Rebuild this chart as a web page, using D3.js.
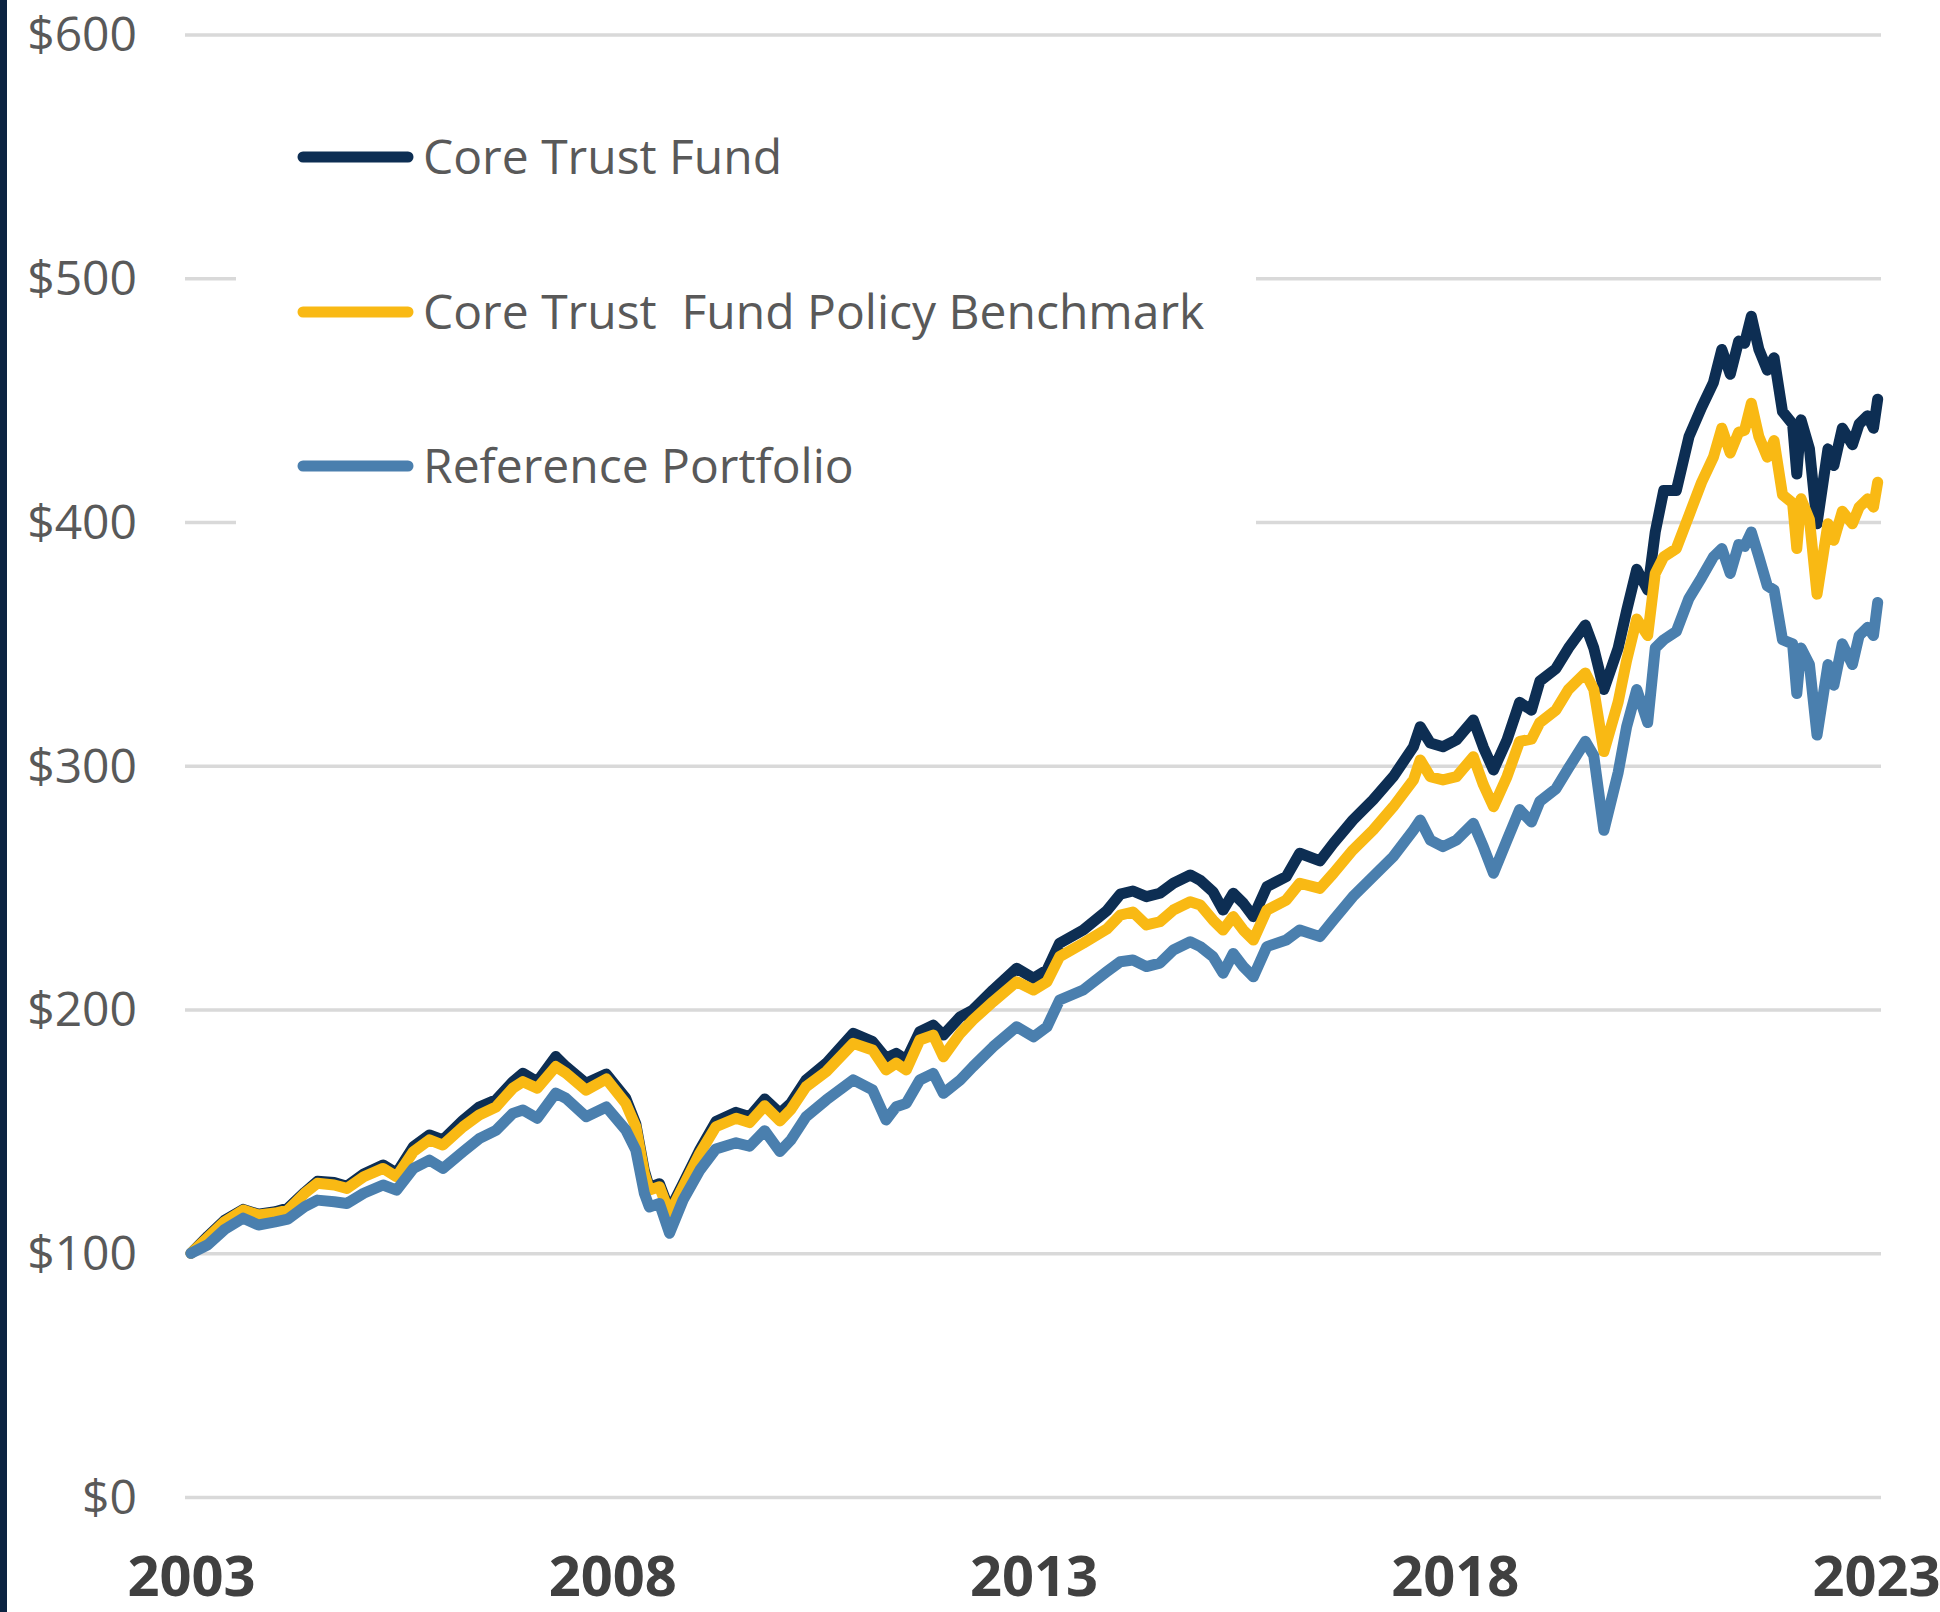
<!DOCTYPE html>
<html>
<head>
<meta charset="utf-8">
<script src="https://cdn.jsdelivr.net/npm/d3@7"></script>
<style>
  html, body { margin: 0; padding: 0; background: #ffffff; }
  svg { display: block; }
</style>
</head>
<body>
<svg id="chart" width="1940" height="1612"></svg>
<script>
// ---- Data (x = position on the fiscal-year axis) ----
const years = [
  2003.00, 2003.20, 2003.40, 2003.62, 2003.80,
  2004.00, 2004.15, 2004.35, 2004.50, 2004.70, 2004.85,
  2005.05, 2005.28, 2005.44, 2005.64, 2005.83, 2005.99,
  2006.23, 2006.42, 2006.62, 2006.82, 2006.94,
  2007.11, 2007.33, 2007.45, 2007.69, 2007.93,
  2008.16, 2008.28, 2008.38, 2008.44, 2008.56, 2008.68, 2008.84,
  2009.04, 2009.23, 2009.47, 2009.63, 2009.81, 2009.99,
  2010.12, 2010.30, 2010.54, 2010.86,
  2011.09, 2011.25, 2011.37, 2011.49, 2011.65, 2011.81, 2011.93,
  2012.13, 2012.28, 2012.52, 2012.80,
  2013.00, 2013.16, 2013.31, 2013.59, 2013.87,
  2014.03, 2014.18, 2014.34, 2014.50, 2014.66, 2014.86, 2014.98,
  2015.13, 2015.25, 2015.37, 2015.49, 2015.61, 2015.77,
  2016.00, 2016.16, 2016.40, 2016.56, 2016.79,
  2017.03, 2017.27, 2017.51, 2017.59, 2017.71, 2017.86,
  2018.02, 2018.22, 2018.34, 2018.46, 2018.62, 2018.77, 2018.91,
  2019.01, 2019.20, 2019.35, 2019.55, 2019.65, 2019.77, 2019.94,
  2020.04, 2020.16, 2020.29, 2020.38, 2020.48, 2020.63, 2020.78, 2020.93,
  2021.07, 2021.17, 2021.27, 2021.37, 2021.44, 2021.52, 2021.61, 2021.71, 2021.79, 2021.89,
  2022.01, 2022.06, 2022.11, 2022.21, 2022.30, 2022.43, 2022.50, 2022.60, 2022.72, 2022.80, 2022.90, 2022.97,
  2023.02
];

const coreTrustFund = [
  100, 107, 113.5, 118, 116,
  117, 118.5, 125, 129.5, 129, 127.5,
  132.5, 136.2, 132.8, 143.7, 148.5, 146.5,
  154.6, 160, 162.9, 170.4, 173.8,
  170.4, 180.7, 176.6, 169.7, 173.5,
  163.6, 153, 134, 127, 128.5, 117.5, 128.5,
  142.5, 154, 157.8, 156, 163.3, 157.4,
  161.5, 171.1, 177.9, 190.2,
  186.8, 180, 182, 179.3, 190.9, 193.6, 189.5,
  197, 199.8, 208, 216.9,
  212.8, 216.2, 227.2, 232.6, 240.5,
  247.3, 248.6, 246.3, 247.7, 251.8, 255.2, 253,
  248.3, 240.8, 247.7, 243.6, 238.1, 250.4,
  254.5, 264.1, 261, 268.2, 277.7,
  286, 295.5, 307.8, 316, 309.3, 307.8,
  310.6, 318.8, 307.5, 298.3, 310.6, 326, 322.8,
  334.7, 339.8, 348.3, 357.7, 348.3, 331.3, 348.3,
  363.6, 380.6, 372.1, 395.9, 412.9, 412.9, 435, 447,
  457.2, 470.8, 460.6, 474.2, 473.3, 484.4, 470.8, 462.3, 467.4, 445.3,
  440.2, 419.7, 441.9, 430, 399.3, 430, 423.2, 438.5, 431.7, 440.2, 443.6, 438.5,
  450.4
];

const policyBenchmark = [
  100, 106.5, 113, 117.7, 115.7,
  116.5, 117.7, 124.6, 128.7, 128, 126.6,
  131.4, 134.8, 131.4, 141.7, 146.5, 144.4,
  151.9, 156.7, 160, 167.7, 170.4,
  167.7, 176.6, 173.9, 166.9, 171.5,
  161.5, 151.9, 132.8, 125.9, 127.3, 116.3, 127.3,
  141, 151.9, 155.4, 153.6, 160.5, 154.3,
  159, 168.3, 174.5, 186.1,
  183.4, 175.2, 178, 175.2, 187.5, 189.5, 180.6,
  190.2, 195.7, 203.2, 211.4,
  208, 211.4, 221.7, 227.2, 233,
  238.7, 240, 234.7, 236, 240.8, 244.2, 242.9,
  236.7, 232.6, 238.1, 232.6, 228.5, 240.8,
  244.9, 251.8, 249.7, 255.9, 265.4,
  273.6, 283.2, 294.2, 302.4, 295.5, 294.2,
  295.5, 303.7, 292.2, 283.2, 295.5, 310, 310.9,
  317.7, 322.8, 331.3, 338.1, 331.3, 305.8, 326.2,
  343.2, 360.2, 353.4, 378.9, 385.7, 389.1, 402.7, 416.3,
  426.6, 438.5, 428.3, 436.8, 437.6, 448.7, 435, 426.6, 433.4, 411.2,
  407.8, 389.1, 409.5, 401, 370.4, 399.3, 392.5, 404.4, 399.3, 406.1, 409.5, 406.1,
  416.3
];

const referencePortfolio = [
  100, 103.5, 109.8, 114.4, 111.6,
  112.9, 114, 119.1, 121.8, 121.1, 120.4,
  124.6, 128, 125.9, 134.8, 138.2, 134.8,
  141.7, 147, 150.4, 157.4, 158.8,
  155.4, 165.7, 163.6, 156, 160,
  150.6, 142.3, 124.7, 119, 120.4, 108.2, 121.8,
  134.1, 142.8, 145.3, 143.9, 150.3, 141.7,
  146.5, 156, 162.9, 171.1,
  167, 154.7, 160.1, 161.5, 171.1, 173.8, 165.6,
  171.1, 176.5, 184.7, 192.9,
  188.8, 192.9, 203.9, 208, 215.5,
  219.6, 220.3, 217.6, 219, 224.4, 227.8, 225.8,
  221.7, 214.9, 223, 217.6, 213.4, 225.8,
  228.5, 232.6, 229.9, 236.7, 246.3,
  254.5, 262.7, 273.6, 277.7, 269.5, 266.8,
  269.5, 276.4, 266.7, 255.9, 269.5, 282, 276.9,
  285.4, 290.5, 299, 310, 304.1, 273.5, 297.3,
  316, 331.3, 317.7, 348.3, 351.7, 355.1, 368.7, 377.2,
  385.7, 389.1, 378.9, 390.8, 390, 395.9, 385.7, 373.8, 372.1, 351.7,
  350, 329.6, 348.3, 341.5, 312.6, 341.5, 333, 350, 341.5, 353.4, 356.8, 353.4,
  367
];

const seriesNames = ["Core Trust Fund", "Core Trust  Fund Policy Benchmark", "Reference Portfolio"];
const seriesColors = ["#0d2e53", "#f9b914", "#4a7fae"];
const xTicks = [2003, 2008, 2013, 2018, 2023];
const yTicks = [0, 100, 200, 300, 400, 500, 600];

// ---- Layout ----
const W = 1940, H = 1612;
const plot = { left: 185, right: 1881, top: 34.5, bottom: 1497 };
const FONT = "'Open Sans', 'Noto Sans', sans-serif";

const svg = d3.select("#chart");
svg.append("rect").attr("width", W).attr("height", H).attr("fill", "#ffffff");

const x = d3.scaleLinear().domain([2003, 2023]).range([191, 1876]);
const y = d3.scaleLinear().domain([0, 600]).range([plot.bottom, plot.top]);

// Y axis with gridlines
const yAxis = svg.append("g")
  .attr("transform", `translate(${plot.left},0)`)
  .call(d3.axisLeft(y)
    .tickValues(yTicks)
    .tickSize(-(plot.right - plot.left))
    .tickPadding(48)
    .tickFormat(d => "$" + d));
yAxis.select(".domain").remove();
yAxis.selectAll(".tick line")
  .attr("stroke", "#d9d9d9")
  .attr("stroke-width", 3.5);
yAxis.selectAll(".tick text")
  .attr("fill", "#595959")
  .attr("font-family", FONT)
  .attr("font-size", 48)
  .attr("dy", "0.34em");

// X axis labels
const xAxis = svg.append("g")
  .attr("transform", `translate(0,${plot.bottom})`)
  .call(d3.axisBottom(x)
    .tickValues(xTicks)
    .tickSize(0)
    .tickFormat(d3.format("d")));
xAxis.select(".domain").remove();
xAxis.selectAll(".tick text")
  .attr("fill", "#404040")
  .attr("font-family", FONT)
  .attr("font-weight", 700)
  .attr("font-size", 56)
  .attr("dy", null)
  .attr("y", 99);

// Legend background (covers gridlines)
svg.append("rect")
  .attr("x", 236).attr("y", 60)
  .attr("width", 1020).attr("height", 480)
  .attr("fill", "#ffffff");

// Lines
const allSeries = [coreTrustFund, policyBenchmark, referencePortfolio];
const line = d3.line()
  .x(d => x(d[0]))
  .y(d => y(d[1]));

allSeries.forEach((vals, i) => {
  const pts = years.map((t, j) => [t, vals[j]]);
  svg.append("path")
    .datum(pts)
    .attr("d", line)
    .attr("fill", "none")
    .attr("stroke", seriesColors[i])
    .attr("stroke-width", 11)
    .attr("stroke-linejoin", "round")
    .attr("stroke-linecap", "round");
});

// Legend
const legendY = [157, 312, 466];
const legend = svg.append("g");
seriesNames.forEach((name, i) => {
  legend.append("line")
    .attr("x1", 303).attr("x2", 408)
    .attr("y1", legendY[i]).attr("y2", legendY[i])
    .attr("stroke", seriesColors[i])
    .attr("stroke-width", 11)
    .attr("stroke-linecap", "round");
  legend.append("text")
    .attr("x", 423)
    .attr("y", legendY[i])
    .attr("dy", "0.36em")
    .attr("fill", "#595959")
    .attr("font-family", FONT)
    .attr("font-size", 48)
    .style("white-space", "pre")
    .attr("xml:space", "preserve")
    .text(name);
});

// Left border bar
svg.append("rect")
  .attr("x", 0).attr("y", 0)
  .attr("width", 7).attr("height", H)
  .attr("fill", "#0b2341");
</script>
</body>
</html>
